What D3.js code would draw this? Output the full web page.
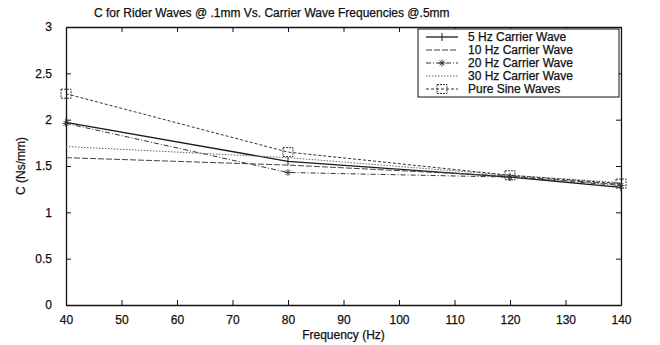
<!DOCTYPE html>
<html>
<head>
<meta charset="utf-8">
<script src="https://cdn.jsdelivr.net/npm/d3@7/dist/d3.min.js"></script>
<style>
  html, body { margin: 0; padding: 0; background: #fff; }
  svg { display: block; }
  text { font-family: "Liberation Sans", Arial, Helvetica, sans-serif; fill: #111; stroke: #111; stroke-width: 0.25px; }
</style>
</head>
<body>
<svg id="chart" width="660" height="345"></svg>
<script>
// Frequencies at which C was measured
const frequencies = [40, 80, 120, 140];

// Damping coefficient C (Ns/mm) for each carrier wave case
const hz5  = [1.97, 1.55, 1.38, 1.27];
const hz10 = [1.59, 1.51, 1.39, 1.30];
const hz20 = [1.96, 1.43, 1.38, 1.29];
const hz30 = [1.71, 1.59, 1.40, 1.32];
const pureSine = [2.28, 1.65, 1.40, 1.31];

const seriesNames = ["5 Hz Carrier Wave", "10 Hz Carrier Wave", "20 Hz Carrier Wave", "30 Hz Carrier Wave", "Pure Sine Waves"];
const xTicks = [40, 50, 60, 70, 80, 90, 100, 110, 120, 130, 140];
const yTicks = [0, 0.5, 1, 1.5, 2, 2.5, 3];

const series = [
  { name: seriesNames[0], values: hz5,      dash: null,      stroke: "#1a1a1a", width: 1.3, marker: "plus" },
  { name: seriesNames[1], values: hz10,     dash: "6,2",     stroke: "#444",    width: 1.0, marker: "none" },
  { name: seriesNames[2], values: hz20,     dash: "5,2,1,2", stroke: "#333",    width: 1.0, marker: "star" },
  { name: seriesNames[3], values: hz30,     dash: "1.5,1.5", stroke: "#666",    width: 1.0, marker: "none" },
  { name: seriesNames[4], values: pureSine, dash: "3,2",     stroke: "#333",    width: 1.0, marker: "square" }
];

const margin = { left: 66, right: 39, top: 27, bottom: 40 };
const W = 660, H = 345;
const FS = 12;
const svg = d3.select("#chart");

const x = d3.scaleLinear().domain([40, 140]).range([margin.left, W - margin.right]);
const y = d3.scaleLinear().domain([0, 3]).range([H - margin.bottom, margin.top]);

// Title
svg.append("text")
  .attr("x", 94).attr("y", 17)
  .attr("font-size", FS)
  .text("C for Rider Waves @ .1mm Vs. Carrier Wave Frequencies @.5mm");

// Axes with inward ticks on all four sides
const tickLen = 5;
const bottomAxis = d3.axisBottom(x).tickValues(xTicks).tickSizeInner(-tickLen).tickSizeOuter(0).tickPadding(10).tickFormat(d3.format("d"));
const topAxis = d3.axisTop(x).tickValues(xTicks).tickSizeInner(-tickLen).tickSizeOuter(0).tickFormat("");
const leftAxis = d3.axisLeft(y).tickValues(yTicks).tickSizeInner(-tickLen).tickSizeOuter(0).tickPadding(14).tickFormat(d3.format("~g"));
const rightAxis = d3.axisRight(y).tickValues(yTicks).tickSizeInner(-tickLen).tickSizeOuter(0).tickFormat("");

function styleAxis(g) {
  g.select(".domain").attr("stroke", "#111").attr("stroke-width", 1.3);
  g.selectAll(".tick line").attr("stroke", "#111").attr("stroke-width", 1);
  g.selectAll(".tick text").attr("font-size", FS).attr("fill", "#111")
    .attr("font-family", "'Liberation Sans', Arial, sans-serif");
}

svg.append("g").attr("transform", `translate(0,${H - margin.bottom})`).call(bottomAxis).call(styleAxis);
svg.append("g").attr("transform", `translate(0,${margin.top})`).call(topAxis).call(styleAxis);
svg.append("g").attr("transform", `translate(${margin.left},0)`).call(leftAxis).call(styleAxis);
svg.append("g").attr("transform", `translate(${W - margin.right},0)`).call(rightAxis).call(styleAxis);

// Axis titles
svg.append("text")
  .attr("x", (x.range()[0] + x.range()[1]) / 2).attr("y", H - 6)
  .attr("text-anchor", "middle").attr("font-size", FS)
  .text("Frequency (Hz)");

svg.append("text")
  .attr("transform", `translate(25,${(y.range()[0] + y.range()[1]) / 2}) rotate(-90)`)
  .attr("text-anchor", "middle").attr("font-size", FS)
  .text("C (Ns/mm)");

// Markers
function drawMarker(g, kind, cx, cy, stroke) {
  if (kind === "plus") {
    g.append("line").attr("x1", cx).attr("x2", cx).attr("y1", cy - 4).attr("y2", cy + 4)
      .attr("stroke", stroke).attr("stroke-width", 1);
  } else if (kind === "star") {
    const r = 3.5;
    [[-r, 0, r, 0], [0, -r, 0, r], [-r * 0.7, -r * 0.7, r * 0.7, r * 0.7], [-r * 0.7, r * 0.7, r * 0.7, -r * 0.7]]
      .forEach(s => g.append("line")
        .attr("x1", cx + s[0]).attr("y1", cy + s[1]).attr("x2", cx + s[2]).attr("y2", cy + s[3])
        .attr("stroke", stroke).attr("stroke-width", 0.9));
  } else if (kind === "square") {
    g.append("rect").attr("x", cx - 5).attr("y", cy - 4.5).attr("width", 10).attr("height", 9)
      .attr("fill", "none").attr("stroke", stroke).attr("stroke-width", 1)
      .attr("stroke-dasharray", "2,1");
  }
}

const line = d3.line().x(d => x(d[0])).y(d => y(d[1]));
const plot = svg.append("g");

series.forEach(s => {
  const pts = frequencies.map((f, i) => [f, s.values[i]]);
  plot.append("path")
    .datum(pts)
    .attr("d", line)
    .attr("fill", "none")
    .attr("stroke", s.stroke)
    .attr("stroke-width", s.width)
    .attr("stroke-dasharray", s.dash);
  const mg = plot.append("g");
  pts.forEach(p => drawMarker(mg, s.marker, x(p[0]), y(p[1]), s.stroke));
});

// Legend
const lgX = 418, lgY = 29, lgW = 201, lgH = 68;
const legend = svg.append("g");
legend.append("rect")
  .attr("x", lgX).attr("y", lgY).attr("width", lgW).attr("height", lgH)
  .attr("fill", "#fff").attr("stroke", "#111").attr("stroke-width", 1);

series.forEach((s, i) => {
  const ry = lgY + 8 + i * 13;
  legend.append("line")
    .attr("x1", lgX + 8).attr("x2", lgX + 40).attr("y1", ry).attr("y2", ry)
    .attr("stroke", s.stroke).attr("stroke-width", s.width)
    .attr("stroke-dasharray", s.dash);
  drawMarker(legend, s.marker, lgX + 24, ry, s.stroke);
  legend.append("text")
    .attr("x", lgX + 50).attr("y", ry + 4)
    .attr("font-size", FS)
    .text(s.name);
});
</script>
</body>
</html>
